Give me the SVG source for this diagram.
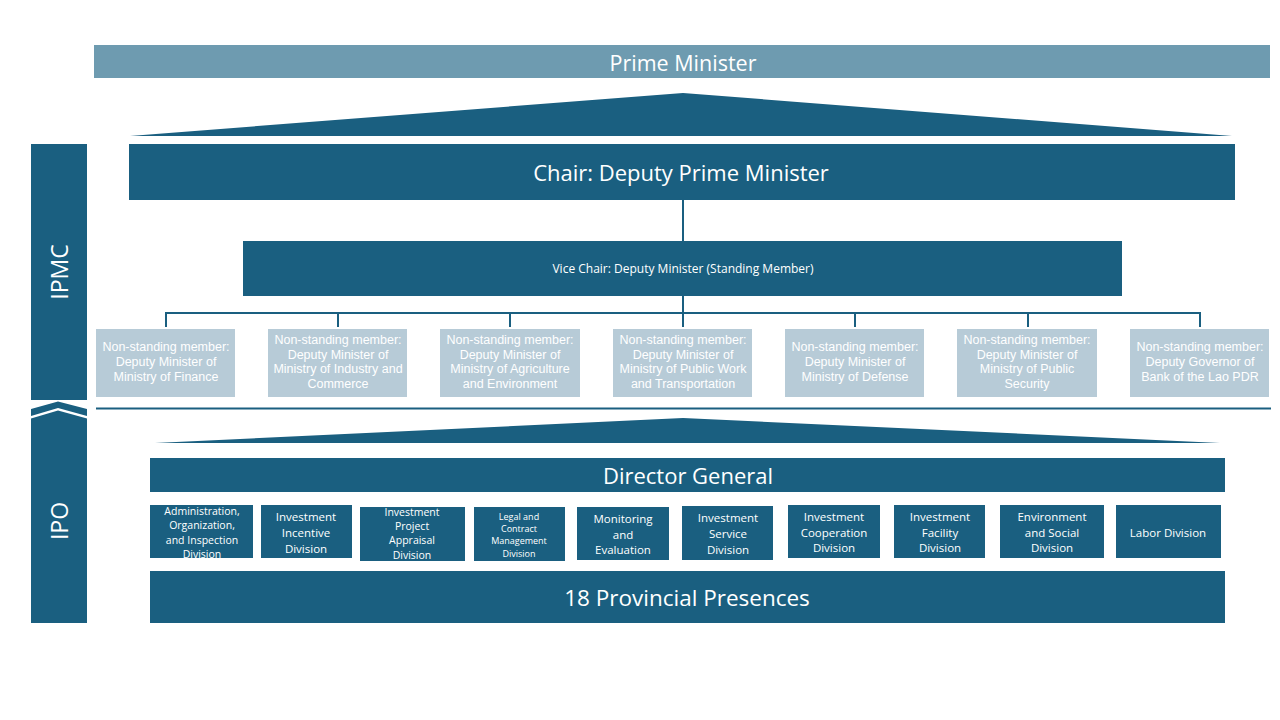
<svg xmlns="http://www.w3.org/2000/svg" width="1280" height="720" viewBox="0 0 1280 720">
<style>
.dk{fill:#1a5f80}
.pm{fill:#6e9bb0}
.mem{fill:#b7cbd7}
.t{font-family:"Open Sans","Liberation Sans",sans-serif;fill:#ffffff;text-anchor:middle;dominant-baseline:central}
.div{font-size:11.5px}
.mt{font-size:12.5px;font-family:"Liberation Sans",sans-serif;fill:#ffffff;text-anchor:middle;dominant-baseline:central}
.ln{stroke:#1a5f80;stroke-width:2;fill:none}
</style>
<rect width="1280" height="720" fill="#ffffff"/>

<g id="prime-minister">
<rect class="pm" x="94" y="45" width="1176" height="33"/>
<text class="t" x="683" y="62" font-size="21.5">Prime Minister</text>
</g>
<polygon id="peak-top" class="dk" points="130,136 683,93 1232,136"/>

<g id="ipmc-label">
<rect class="dk" x="31" y="144" width="56" height="256"/>
<text class="t" font-size="23" transform="translate(59,272) rotate(-90)">IPMC</text>
</g>
<polygon id="chevron" class="dk" points="31,409 58,401.5 87,409 87,416 58,408 31,416"/>
<g id="ipo-label">
<polygon class="dk" points="31,418.5 58,410.5 87,418.5 87,623 31,623"/>
<text class="t" font-size="23" transform="translate(59,521) rotate(-90)">IPO</text>
</g>

<g id="chair">
<rect class="dk" x="129" y="144" width="1106" height="56"/>
<text class="t" x="681" y="172" font-size="22">Chair: Deputy Prime Minister</text>
</g>

<g id="vice-chair">
<rect class="dk" x="243" y="241" width="879" height="55"/>
<text class="t" x="683" y="268" font-size="12">Vice Chair: Deputy Minister (Standing Member)</text>
</g>

<g id="connectors">
<line class="ln" x1="683" y1="200" x2="683" y2="241"/>
<line class="ln" x1="683" y1="296" x2="683" y2="327"/>
<line class="ln" x1="165" y1="313" x2="1201" y2="313"/>
<line class="ln" x1="166" y1="312" x2="166" y2="327"/>
<line class="ln" x1="338" y1="312" x2="338" y2="327"/>
<line class="ln" x1="510" y1="312" x2="510" y2="327"/>
<line class="ln" x1="855" y1="312" x2="855" y2="327"/>
<line class="ln" x1="1028" y1="312" x2="1028" y2="327"/>
<line class="ln" x1="1200" y1="312" x2="1200" y2="327"/>
<line class="ln" x1="96" y1="408.5" x2="1271" y2="408.5"/>
</g>

<g id="member-finance">
<rect class="mem" x="96" y="329" width="139" height="68"/>
<text class="mt" x="166" y="347">Non-standing  member:</text>
<text class="mt" x="166" y="362">Deputy Minister of</text>
<text class="mt" x="166" y="377">Ministry of Finance</text>
</g>
<g id="member-industry">
<rect class="mem" x="268" y="329" width="139" height="68"/>
<text class="mt" x="338" y="340">Non-standing  member:</text>
<text class="mt" x="338" y="355">Deputy Minister of</text>
<text class="mt" x="338" y="369">Ministry of Industry  and</text>
<text class="mt" x="338" y="384">Commerce</text>
</g>
<g id="member-agriculture">
<rect class="mem" x="440" y="329" width="140" height="68"/>
<text class="mt" x="510" y="340">Non-standing  member:</text>
<text class="mt" x="510" y="355">Deputy Minister of</text>
<text class="mt" x="510" y="369">Ministry of Agriculture</text>
<text class="mt" x="510" y="384">and Environment</text>
</g>
<g id="member-publicwork">
<rect class="mem" x="613" y="329" width="139" height="68"/>
<text class="mt" x="683" y="340">Non-standing  member:</text>
<text class="mt" x="683" y="355">Deputy Minister of</text>
<text class="mt" x="683" y="369">Ministry of Public Work</text>
<text class="mt" x="683" y="384">and Transportation</text>
</g>
<g id="member-defense">
<rect class="mem" x="785" y="329" width="139" height="68"/>
<text class="mt" x="855" y="347">Non-standing  member:</text>
<text class="mt" x="855" y="362">Deputy Minister of</text>
<text class="mt" x="855" y="377">Ministry of Defense</text>
</g>
<g id="member-security">
<rect class="mem" x="957" y="329" width="140" height="68"/>
<text class="mt" x="1027" y="340">Non-standing  member:</text>
<text class="mt" x="1027" y="355">Deputy Minister of</text>
<text class="mt" x="1027" y="369">Ministry of Public</text>
<text class="mt" x="1027" y="384">Security</text>
</g>
<g id="member-bank">
<rect class="mem" x="1130" y="329" width="139" height="68"/>
<text class="mt" x="1200" y="347">Non-standing  member:</text>
<text class="mt" x="1200" y="362">Deputy Governor of</text>
<text class="mt" x="1200" y="377">Bank of the Lao PDR</text>
</g>

<polygon id="peak-bottom" class="dk" points="155,443 683,418 1220,443"/>

<g id="director-general">
<rect class="dk" x="150" y="458" width="1075" height="34"/>
<text class="t" x="688" y="475" font-size="22">Director General</text>
</g>

<g id="div-admin">
<rect class="dk" x="150" y="505" width="103" height="53"/>
<text class="t" x="202" y="511" font-size="10.5">Administration,</text>
<text class="t" x="202" y="525" font-size="10.5">Organization,</text>
<text class="t" x="202" y="540" font-size="10.5">and Inspection</text>
<text class="t" x="202" y="554" font-size="10.5">Division</text>
</g>
<g id="div-incentive">
<rect class="dk" x="261" y="505" width="91" height="53"/>
<text class="t div" x="306" y="516">Investment</text>
<text class="t div" x="306" y="532">Incentive</text>
<text class="t div" x="306" y="548">Division</text>
</g>
<g id="div-appraisal">
<rect class="dk" x="360" y="507" width="105" height="54"/>
<text class="t" x="412" y="512" font-size="10.5">Investment</text>
<text class="t" x="412" y="526" font-size="10.5">Project</text>
<text class="t" x="412" y="540" font-size="10.5">Appraisal</text>
<text class="t" x="412" y="555" font-size="10.5">Division</text>
</g>
<g id="div-legal">
<rect class="dk" x="474" y="507" width="91" height="54"/>
<text class="t" x="519" y="516" font-size="9">Legal and</text>
<text class="t" x="519" y="528" font-size="9">Contract</text>
<text class="t" x="519" y="540" font-size="9">Management</text>
<text class="t" x="519" y="553" font-size="9">Division</text>
</g>
<g id="div-monitoring">
<rect class="dk" x="577" y="507" width="92" height="53"/>
<text class="t div" x="623" y="518">Monitoring</text>
<text class="t div" x="623" y="534">and</text>
<text class="t div" x="623" y="549">Evaluation</text>
</g>
<g id="div-service">
<rect class="dk" x="682" y="506" width="91" height="54"/>
<text class="t div" x="728" y="517">Investment</text>
<text class="t div" x="728" y="533">Service</text>
<text class="t div" x="728" y="549">Division</text>
</g>
<g id="div-cooperation">
<rect class="dk" x="788" y="505" width="92" height="53"/>
<text class="t div" x="834" y="516">Investment</text>
<text class="t div" x="834" y="532">Cooperation</text>
<text class="t div" x="834" y="547">Division</text>
</g>
<g id="div-facility">
<rect class="dk" x="894" y="505" width="91" height="53"/>
<text class="t div" x="940" y="516">Investment</text>
<text class="t div" x="940" y="532">Facility</text>
<text class="t div" x="940" y="547">Division</text>
</g>
<g id="div-environment">
<rect class="dk" x="1000" y="505" width="104" height="53"/>
<text class="t div" x="1052" y="516">Environment</text>
<text class="t div" x="1052" y="532">and Social</text>
<text class="t div" x="1052" y="547">Division</text>
</g>
<g id="div-labor">
<rect class="dk" x="1116" y="505" width="105" height="53"/>
<text class="t div" x="1168" y="532">Labor Division</text>
</g>

<g id="provincial">
<rect class="dk" x="150" y="571" width="1075" height="52"/>
<text class="t" x="687" y="597" font-size="22.5">18 Provincial Presences</text>
</g>
</svg>
